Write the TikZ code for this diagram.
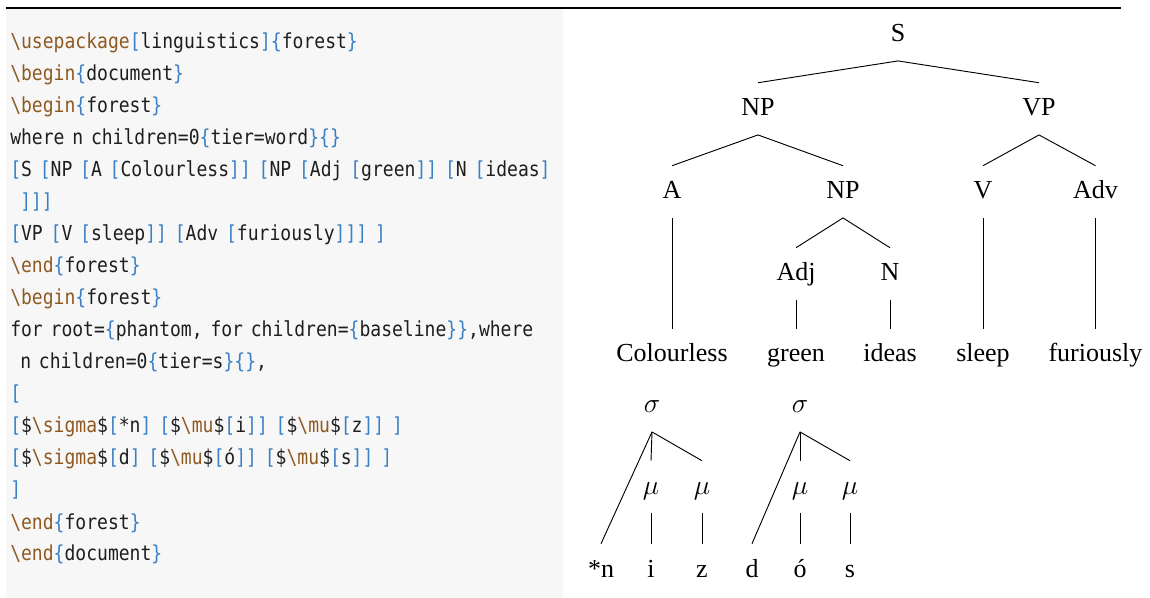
\documentclass[tikz,border=0pt]{standalone}
\usepackage{fontspec}
\setmainfont{Liberation Serif}
\newfontfamily\codefont[FakeStretch=0.873]{DejaVu Sans Mono}
\definecolor{codebg}{HTML}{F7F7F7}
\definecolor{codebrown}{HTML}{8F5A22}
\definecolor{codeblue}{HTML}{3A80C4}
\definecolor{codetext}{HTML}{1E1E1E}
\newcommand\ckw[1]{\textcolor{codebrown}{#1}}
\newcommand\cbr[1]{\textcolor{codeblue}{#1}}
\newcommand\lsp{\hspace*{7.5pt}}
\tikzset{
  codeline/.style={anchor=base west, inner sep=0pt, text=codetext,
    font={\codefont\fontsize{15.5pt}{18pt}\selectfont\spaceskip=5.85pt\relax}},
  tn/.style={anchor=base, inner sep=0pt, text height=24.75pt, text depth=14pt,
    font=\fontsize{19.5pt}{22pt}\selectfont},
  edge/.style={draw=black, line width=0.7pt}
}
\begin{document}
\begin{tikzpicture}[x=0.75pt,y=-0.75pt]
\useasboundingbox (0,0) rectangle (1150,598);
\fill[codebg] (6,9.5) rectangle (563,598);
\draw[line width=1pt] (6,8) -- (1121,8);
% code listing
\node[codeline] (c1) at (10,49) {\ckw{\textbackslash usepackage}\cbr{[}linguistics\cbr{]}\cbr{\{}forest\cbr{\}}};
\node[codeline] (c2) at (10,81) {\ckw{\textbackslash begin}\cbr{\{}document\cbr{\}}};
\node[codeline] (c3) at (10,113) {\ckw{\textbackslash begin}\cbr{\{}forest\cbr{\}}};
\node[codeline] (c4) at (10,145) {where n children=0\cbr{\{}tier=word\cbr{\}\{\}}};
\node[codeline] (c5) at (10,177) {\cbr{[}S \cbr{[}NP \cbr{[}A \cbr{[}Colourless\cbr{]]} \cbr{[}NP \cbr{[}Adj \cbr{[}green\cbr{]]} \cbr{[}N \cbr{[}ideas\cbr{]}};
\node[codeline] (c6) at (10,209) {\lsp\cbr{]]]}};
\node[codeline] (c7) at (10,241) {\cbr{[}VP \cbr{[}V \cbr{[}sleep\cbr{]]} \cbr{[}Adv \cbr{[}furiously\cbr{]]]} \cbr{]}};
\node[codeline] (c8) at (10,273) {\ckw{\textbackslash end}\cbr{\{}forest\cbr{\}}};
\node[codeline] (c9) at (10,305) {\ckw{\textbackslash begin}\cbr{\{}forest\cbr{\}}};
\node[codeline] (c10) at (10,337) {for root=\cbr{\{}phantom, for children=\cbr{\{}baseline\cbr{\}\}},where};
\node[codeline] (c11) at (10,369) {\lsp n children=0\cbr{\{}tier=s\cbr{\}\{\}},};
\node[codeline] (c12) at (10,401) {\cbr{[}};
\node[codeline] (c13) at (10,433) {\cbr{[}\$\ckw{\textbackslash sigma}\$\cbr{[}*n\cbr{]} \cbr{[}\$\ckw{\textbackslash mu}\$\cbr{[}i\cbr{]]} \cbr{[}\$\ckw{\textbackslash mu}\$\cbr{[}z\cbr{]]} \cbr{]}};
\node[codeline] (c14) at (10,465) {\cbr{[}\$\ckw{\textbackslash sigma}\$\cbr{[}d\cbr{]} \cbr{[}\$\ckw{\textbackslash mu}\$\cbr{[}ó\cbr{]]} \cbr{[}\$\ckw{\textbackslash mu}\$\cbr{[}s\cbr{]]} \cbr{]}};
\node[codeline] (c15) at (10,497) {\cbr{]}};
\node[codeline] (c16) at (10,529) {\ckw{\textbackslash end}\cbr{\{}forest\cbr{\}}};
\node[codeline] (c17) at (10,561) {\ckw{\textbackslash end}\cbr{\{}document\cbr{\}}};
% syntax tree
\node[tn] (S) at (898,42) {S};
\node[tn] (NP1) at (758,116) {NP};
\node[tn] (VP) at (1039,116) {VP};
\node[tn] (A) at (672,199) {A};
\node[tn] (NP2) at (843,199) {NP};
\node[tn] (V) at (983,199) {V};
\node[tn] (Adv) at (1095.5,199) {Adv};
\node[tn] (Adj) at (796,281) {Adj};
\node[tn] (N) at (890,281) {N};
\node[tn] (w1) at (672,362) {Colourless};
\node[tn] (w2) at (796,362) {green};
\node[tn] (w3) at (890,362) {ideas};
\node[tn] (w4) at (983,362) {sleep};
\node[tn] (w5) at (1095.5,362) {furiously};
\draw[edge] (S.south) -- (NP1.north);
\draw[edge] (S.south) -- (VP.north);
\draw[edge] (NP1.south) -- (A.north);
\draw[edge] (NP1.south) -- (NP2.north);
\draw[edge] (VP.south) -- (V.north);
\draw[edge] (VP.south) -- (Adv.north);
\draw[edge] (A.south) -- (w1.north);
\draw[edge] (NP2.south) -- (Adj.north);
\draw[edge] (NP2.south) -- (N.north);
\draw[edge] (Adj.south) -- (w2.north);
\draw[edge] (N.south) -- (w3.north);
\draw[edge] (V.south) -- (w4.north);
\draw[edge] (Adv.south) -- (w5.north);
% syllable trees
\node[tn] (s1) at (652,413) {$\sigma$};
\node[tn] (s2) at (800,413) {$\sigma$};
\node[tn] (m1) at (651,494) {$\mu$};
\node[tn] (m2) at (702,494) {$\mu$};
\node[tn] (m3) at (800,494) {$\mu$};
\node[tn] (m4) at (850,494) {$\mu$};
\node[tn] (l1) at (601,577) {*n};
\node[tn] (l2) at (651,577) {i};
\node[tn] (l3) at (702,577) {z};
\node[tn] (l4) at (752,577) {d};
\node[tn] (l5) at (800,577) {ó};
\node[tn] (l6) at (850,577) {s};
\draw[edge] (s1.south) -- (l1.north);
\draw[edge] (s1.south) -- (m1.north);
\draw[edge] (s1.south) -- (m2.north);
\draw[edge] (m1.south) -- (l2.north);
\draw[edge] (m2.south) -- (l3.north);
\draw[edge] (s2.south) -- (l4.north);
\draw[edge] (s2.south) -- (m3.north);
\draw[edge] (s2.south) -- (m4.north);
\draw[edge] (m3.south) -- (l5.north);
\draw[edge] (m4.south) -- (l6.north);
\end{tikzpicture}
\end{document}
